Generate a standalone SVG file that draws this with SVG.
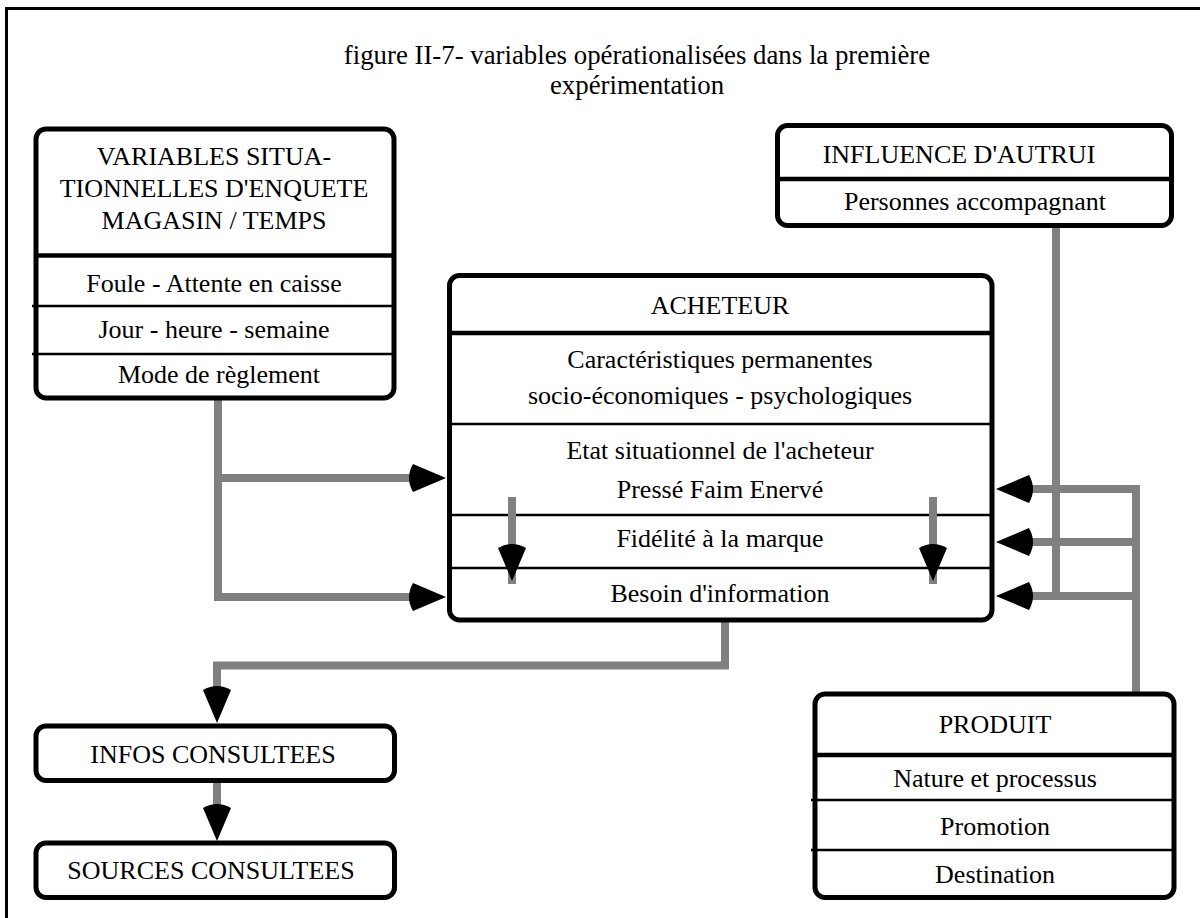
<svg xmlns="http://www.w3.org/2000/svg" xmlns:xlink="http://www.w3.org/1999/xlink" width="1200" height="918" viewBox="0 0 1200 918">
  <style>
    text { font-family: "Liberation Serif", "Times New Roman", serif; font-size: 26px; fill: #000; text-anchor: middle; }
    .title { font-size: 26.8px; }
    .box { fill: #fff; stroke: #000; stroke-width: 5; }
    .thick { stroke: #000; stroke-width: 4.5; }
    .thin { stroke: #000; stroke-width: 2.5; }
    .link { fill: none; stroke: #808080; stroke-width: 8; stroke-linejoin: miter; stroke-linecap: butt; }
    .head { fill: #000; }
  </style>
  <defs>
    <!-- arrowhead, tip at the origin, pointing along +x, rounded back -->
    <path id="ah" d="M0,0 L-33,-14 Q-41,0 -33,14 Z"/>
  </defs>

  <rect width="1200" height="918" fill="#fff"/>
  <!-- page frame -->
  <path d="M6.5,918 V8.5 H1200" fill="none" stroke="#000" stroke-width="3"/>

  <g id="title">
    <text class="title" x="637" y="64">figure II-7- variables opérationalisées dans la première</text>
    <text class="title" x="637" y="94">expérimentation</text>
  </g>

  <!-- connectors -->
  <g id="connectors">
    <path class="link" d="M218,399 V597 H413"/>
    <path class="link" d="M218,478 H413"/>
    <path class="link" d="M1056,228 V597"/>
    <path class="link" d="M1136,694 V489 H1030"/>
    <path class="link" d="M1136,542 H1030"/>
    <path class="link" d="M1136,596 H1032"/>
    <path class="link" d="M725,620 V665.5 H217 V690"/>
    <path class="link" d="M217,783 V808"/>
    <g class="head">
      <use xlink:href="#ah" transform="translate(446,478)"/>
      <use xlink:href="#ah" transform="translate(446,597)"/>
      <use xlink:href="#ah" transform="translate(996,489) rotate(180)"/>
      <use xlink:href="#ah" transform="translate(996,542) rotate(180)"/>
      <use xlink:href="#ah" transform="translate(996,596) rotate(180)"/>
      <use xlink:href="#ah" transform="translate(217,723) rotate(90)"/>
      <use xlink:href="#ah" transform="translate(217,841) rotate(90)"/>
    </g>
  </g>

  <g id="variables-situationnelles">
    <rect class="box" x="36" y="129" width="358" height="269" rx="10"/>
    <line class="thick" x1="36" y1="255.5" x2="394" y2="255.5"/>
    <line class="thin" x1="32" y1="306" x2="394" y2="306"/>
    <line class="thin" x1="32" y1="354" x2="394" y2="354"/>
    <text x="214" y="165">VARIABLES SITUA-</text>
    <text x="214" y="197">TIONNELLES D'ENQUETE</text>
    <text x="214" y="229">MAGASIN / TEMPS</text>
    <text x="214" y="292">Foule - Attente en caisse</text>
    <text x="214" y="338">Jour - heure - semaine</text>
    <text x="219" y="383">Mode de règlement</text>
  </g>

  <g id="influence-autrui">
    <rect class="box" x="777.5" y="125.5" width="394" height="100" rx="10"/>
    <line class="thick" x1="777.5" y1="179" x2="1171.5" y2="179"/>
    <text x="959" y="163">INFLUENCE D'AUTRUI</text>
    <text x="975" y="210">Personnes accompagnant</text>
  </g>

  <g id="acheteur">
    <rect class="box" x="449.5" y="275.5" width="542.5" height="344.5" rx="10"/>
    <line class="thick" x1="449.5" y1="333" x2="992" y2="333"/>
    <line class="thin" x1="449.5" y1="424" x2="992" y2="424"/>
    <line class="thin" x1="449.5" y1="515" x2="992" y2="515"/>
    <line class="thin" x1="449.5" y1="568" x2="992" y2="568"/>
    <text x="720" y="314">ACHETEUR</text>
    <text x="720" y="368">Caractéristiques permanentes</text>
    <text x="720" y="404">socio-économiques - psychologiques</text>
    <text x="720" y="459">Etat situationnel de l'acheteur</text>
    <text x="720" y="498">Pressé Faim Enervé</text>
    <text x="720" y="547">Fidélité à la marque</text>
    <text x="720" y="602">Besoin d'information</text>
    <!-- internal flows from the situational state to the information need -->
    <path class="link" d="M512,497 V584"/>
    <path class="link" d="M933,497 V584"/>
    <use class="head" xlink:href="#ah" transform="translate(512,581) rotate(90)"/>
    <use class="head" xlink:href="#ah" transform="translate(933,581) rotate(90)"/>
  </g>

  <g id="infos-consultees">
    <rect class="box" x="36" y="726" width="358.5" height="54.5" rx="10"/>
    <text x="213" y="763">INFOS CONSULTEES</text>
  </g>

  <g id="sources-consultees">
    <rect class="box" x="36" y="843" width="358.5" height="54.5" rx="10"/>
    <text x="211" y="879">SOURCES CONSULTEES</text>
  </g>

  <g id="produit">
    <rect class="box" x="815" y="694" width="359" height="203.5" rx="10"/>
    <line class="thick" x1="815" y1="755" x2="1174" y2="755"/>
    <line class="thin" x1="811" y1="800" x2="1174" y2="800"/>
    <line class="thin" x1="811" y1="850" x2="1174" y2="850"/>
    <text x="995" y="733">PRODUIT</text>
    <text x="995" y="787">Nature et processus</text>
    <text x="995" y="835">Promotion</text>
    <text x="995" y="883">Destination</text>
  </g>
</svg>
